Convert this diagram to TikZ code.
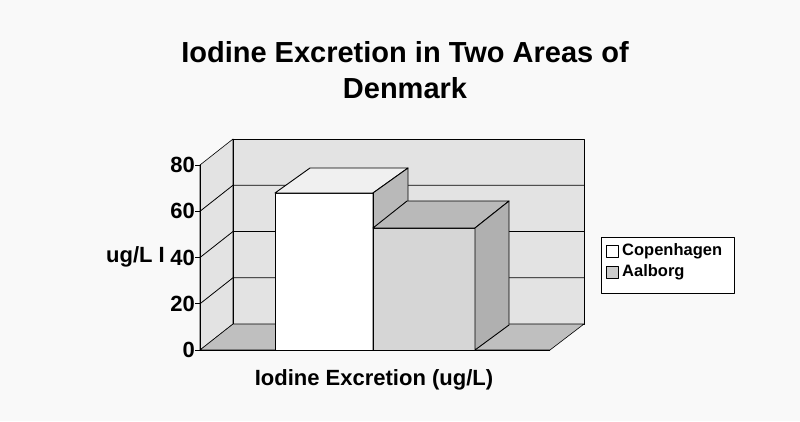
\documentclass[tikz,border=0pt]{standalone}
\usepackage{fontspec}
\setmainfont{Liberation Sans}
\begin{document}
\begin{tikzpicture}[x=1pt,y=-1pt,line join=round,
  wall/.style={draw=black,line width=0.6pt,fill=gray!22},
  floorst/.style={draw=black,line width=0.6pt,fill=gray!50},
  edge/.style={draw=black,line width=0.9pt},
  lbl/.style={font=\bfseries\fontsize{22}{26}\selectfont,inner sep=0pt}]
\fill[gray!5] (0,0) rectangle (800,421);
\useasboundingbox (0,0) rectangle (800,421);
% walls
\path[wall] (200,350)--(233,324)--(233,139)--(200,165)--cycle;
\path[wall] (233,139)--(584,139)--(584,324)--(233,324)--cycle;
\path[floorst] (200,350)--(550,350)--(584,324)--(233,324)--cycle;
\foreach \v in {20,40,60}{
  \draw[line width=0.8pt] (200,{350-2.3125*\v})--(233,{324-2.3125*\v})--(584,{324-2.3125*\v});
}
% axis and ticks
\draw[edge] (200,350)--(200,165);
\draw[edge] (200,350)--(550,350);
\foreach \v in {0,20,40,60,80}{
  \draw[line width=0.8pt] (195,{350-2.3125*\v})--(200,{350-2.3125*\v});
  \node[lbl,anchor=east] (t\v) at (195,{350-2.3125*\v}) {\v};
}
% bar 1
\path[edge,fill=white] (275,350) rectangle (373,193);
\path[edge,fill=gray!12] (275,193)--(373,193)--(408,168)--(310,168)--cycle;
\path[edge,fill=gray!55] (373,350)--(408,325)--(408,168)--(373,193)--cycle;
% bar 2
\path[edge,fill=gray!32] (373,350) rectangle (475,228);
\path[edge,fill=gray!55] (373,228)--(475,228)--(509,201)--(407,201)--cycle;
\path[edge,fill=gray!62] (475,350)--(509,325)--(509,201)--(475,228)--cycle;
\draw[edge] (373,350)--(373,193);
% title & labels
\node[font=\bfseries\fontsize{29}{36}\selectfont,align=center] (title) at (405,70) {Iodine Excretion in Two Areas of\\Denmark};
\node[lbl,anchor=east] (ylab) at (165,257) {ug/L I};
\node[lbl] (xlab) at (374,380) {Iodine Excretion (ug/L)};
% legend
\draw[line width=0.9pt,fill=white] (601,237) rectangle (734,293);
\draw[line width=0.7pt,fill=white] (606,245) rectangle (618,257);
\draw[line width=0.7pt,fill=gray!40] (606,278) rectangle (618,266);
\node[font=\bfseries\fontsize{16.5}{18}\selectfont,anchor=west,inner sep=0pt] (lc) at (622,251) {Copenhagen};
\node[font=\bfseries\fontsize{16.5}{18}\selectfont,anchor=west,inner sep=0pt] (la) at (622,272) {Aalborg};
\end{tikzpicture}
\end{document}
